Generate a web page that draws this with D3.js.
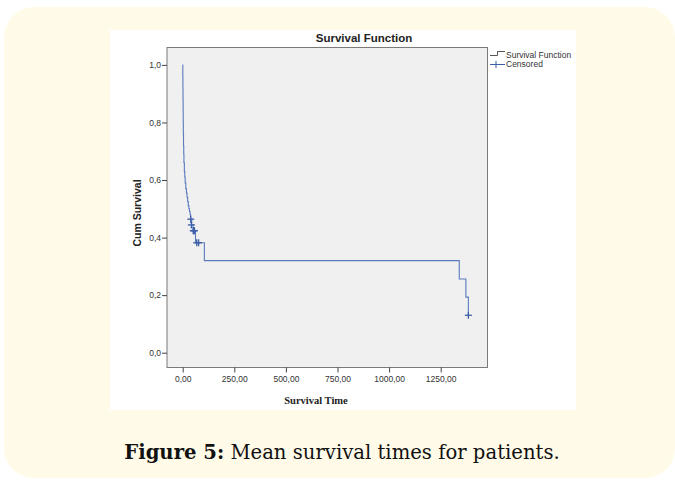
<!DOCTYPE html>
<html>
<head>
<meta charset="utf-8">
<script src="https://cdn.jsdelivr.net/npm/d3@7"></script>
<style>
  body { margin: 0; background: #fff; }
  svg { display: block; }
</style>
</head>
<body>
<svg id="chart" width="675" height="480"></svg>
<script>
// step points of the Kaplan-Meier curve (time, survival after that time)
const eventTimes = [0, 0.5, 1, 1.5, 2, 2.5, 3, 4, 5, 6, 8, 10, 12, 15, 18, 21, 24, 27, 30, 33, 36, 38, 44, 50, 62, 105, 1340, 1372, 1384];
const survival = [1.0, 0.96, 0.92, 0.88, 0.84, 0.80, 0.76, 0.72, 0.69, 0.66, 0.63, 0.61, 0.59, 0.57, 0.555, 0.54, 0.525, 0.51, 0.50, 0.49, 0.48, 0.464, 0.444, 0.424, 0.382, 0.32, 0.256, 0.193, 0.13];
// censored cases
const censorTimes = [39, 42, 51, 54, 57, 68, 77, 1384];
const censorSurv = [0.464, 0.444, 0.424, 0.424, 0.424, 0.382, 0.382, 0.13];

const xTicks = [0, 250, 500, 750, 1000, 1250];
const yTicks = [0, 0.2, 0.4, 0.6, 0.8, 1.0];

const svg = d3.select("#chart");

// cream card behind the figure
svg.append("rect")
  .attr("x", 4).attr("y", 7)
  .attr("width", 671).attr("height", 471)
  .attr("rx", 30)
  .attr("fill", "#fffbe8");

// white picture area
svg.append("rect")
  .attr("x", 110).attr("y", 30)
  .attr("width", 466).attr("height", 380)
  .attr("fill", "#fff");

const x = d3.scaleLinear().domain([0, 1250]).range([182.7, 440.7]);
const y = d3.scaleLinear().domain([0, 1]).range([352.7, 64.9]);

const plotL = 167, plotR = 487.5, plotT = 47.5, plotB = 367.5;

svg.append("rect")
  .attr("x", plotL).attr("y", plotT)
  .attr("width", plotR - plotL).attr("height", plotB - plotT)
  .attr("fill", "#f0f0f0")
  .attr("stroke", "#7a7a7a")
  .attr("stroke-width", 1);

const comma = v => d3.format(".1f")(v).replace(".", ",");
const comma2 = v => d3.format(".2f")(v).replace(".", ",");

const yAxis = d3.axisLeft(y).tickValues(yTicks).tickSize(5).tickFormat(comma);
const gy = svg.append("g").attr("transform", `translate(${plotL},0)`).call(yAxis);
gy.select(".domain").remove();

const xAxis = d3.axisBottom(x).tickValues(xTicks).tickSize(5).tickFormat(comma2);
const gx = svg.append("g").attr("transform", `translate(0,${plotB})`).call(xAxis);
gx.select(".domain").remove();

svg.selectAll(".tick line").attr("stroke", "#444");
svg.selectAll(".tick text")
  .attr("font-family", "Arial, 'Liberation Sans', sans-serif")
  .attr("font-size", 8.5)
  .attr("fill", "#333");
gy.selectAll(".tick text").attr("x", -6);
gx.selectAll(".tick text").attr("y", 8);

// survival step line
const pts = eventTimes.map((t, i) => [t, survival[i]]);
const line = d3.line()
  .x(d => x(d[0]))
  .y(d => y(d[1]))
  .curve(d3.curveStepAfter);

svg.append("path")
  .datum(pts)
  .attr("d", line)
  .attr("fill", "none")
  .attr("stroke", "#5b7bbd")
  .attr("stroke-width", 1.1);

// censor marks
const cens = censorTimes.map((t, i) => [t, censorSurv[i]]);
const cg = svg.append("g").attr("stroke", "#3d5ea8").attr("stroke-width", 1.3);
cens.forEach(d => {
  const cx = x(d[0]), cy = y(d[1]);
  cg.append("line").attr("x1", cx - 3.5).attr("x2", cx + 3.5).attr("y1", cy).attr("y2", cy);
  cg.append("line").attr("x1", cx).attr("x2", cx).attr("y1", cy - 3.5).attr("y2", cy + 3.5);
});

// title
svg.append("text")
  .attr("x", 364).attr("y", 42)
  .attr("text-anchor", "middle")
  .attr("font-family", "Arial, 'Liberation Sans', sans-serif")
  .attr("font-weight", "bold")
  .attr("font-size", 11.5)
  .attr("fill", "#222")
  .text("Survival Function");

// axis titles
svg.append("text")
  .attr("transform", "translate(141,213) rotate(-90)")
  .attr("text-anchor", "middle")
  .attr("font-family", "Arial, 'Liberation Sans', sans-serif")
  .attr("font-weight", "bold")
  .attr("font-size", 10.5)
  .attr("fill", "#222")
  .text("Cum Survival");

svg.append("text")
  .attr("x", 316).attr("y", 403.5)
  .attr("text-anchor", "middle")
  .attr("font-family", "'Liberation Serif', 'Times New Roman', serif")
  .attr("font-weight", "bold")
  .attr("font-size", 10.5)
  .attr("fill", "#222")
  .text("Survival Time");

// legend
const lg = svg.append("g").attr("fill", "none").attr("stroke", "#555").attr("stroke-width", 1);
lg.append("path").attr("d", "M490,55.5 H497.5 V51.5 H505");
lg.append("path").attr("d", "M490,64.5 H505 M496,61 V68").attr("stroke", "#3d5ea8");
const legendText = ["Survival Function", "Censored"];
svg.selectAll(".lgt").data(legendText).join("text")
  .attr("x", 506)
  .attr("y", (d, i) => 58 + i * 9)
  .attr("font-family", "Arial, 'Liberation Sans', sans-serif")
  .attr("font-size", 8.5)
  .attr("fill", "#333")
  .text(d => d);

// caption, sized so it spans about 124..560 like the original
const cap = svg.append("text")
  .attr("x", 342).attr("y", 459)
  .attr("text-anchor", "middle")
  .attr("font-family", "'DejaVu Serif', serif")
  .attr("font-size", 20)
  .attr("fill", "#111");
cap.append("tspan").attr("font-weight", "bold").text("Figure 5:");
cap.append("tspan").text(" Mean survival times for patients.");
const capW = cap.node().getComputedTextLength();
cap.attr("font-size", 20 * 436 / capW);
</script>
</body>
</html>
